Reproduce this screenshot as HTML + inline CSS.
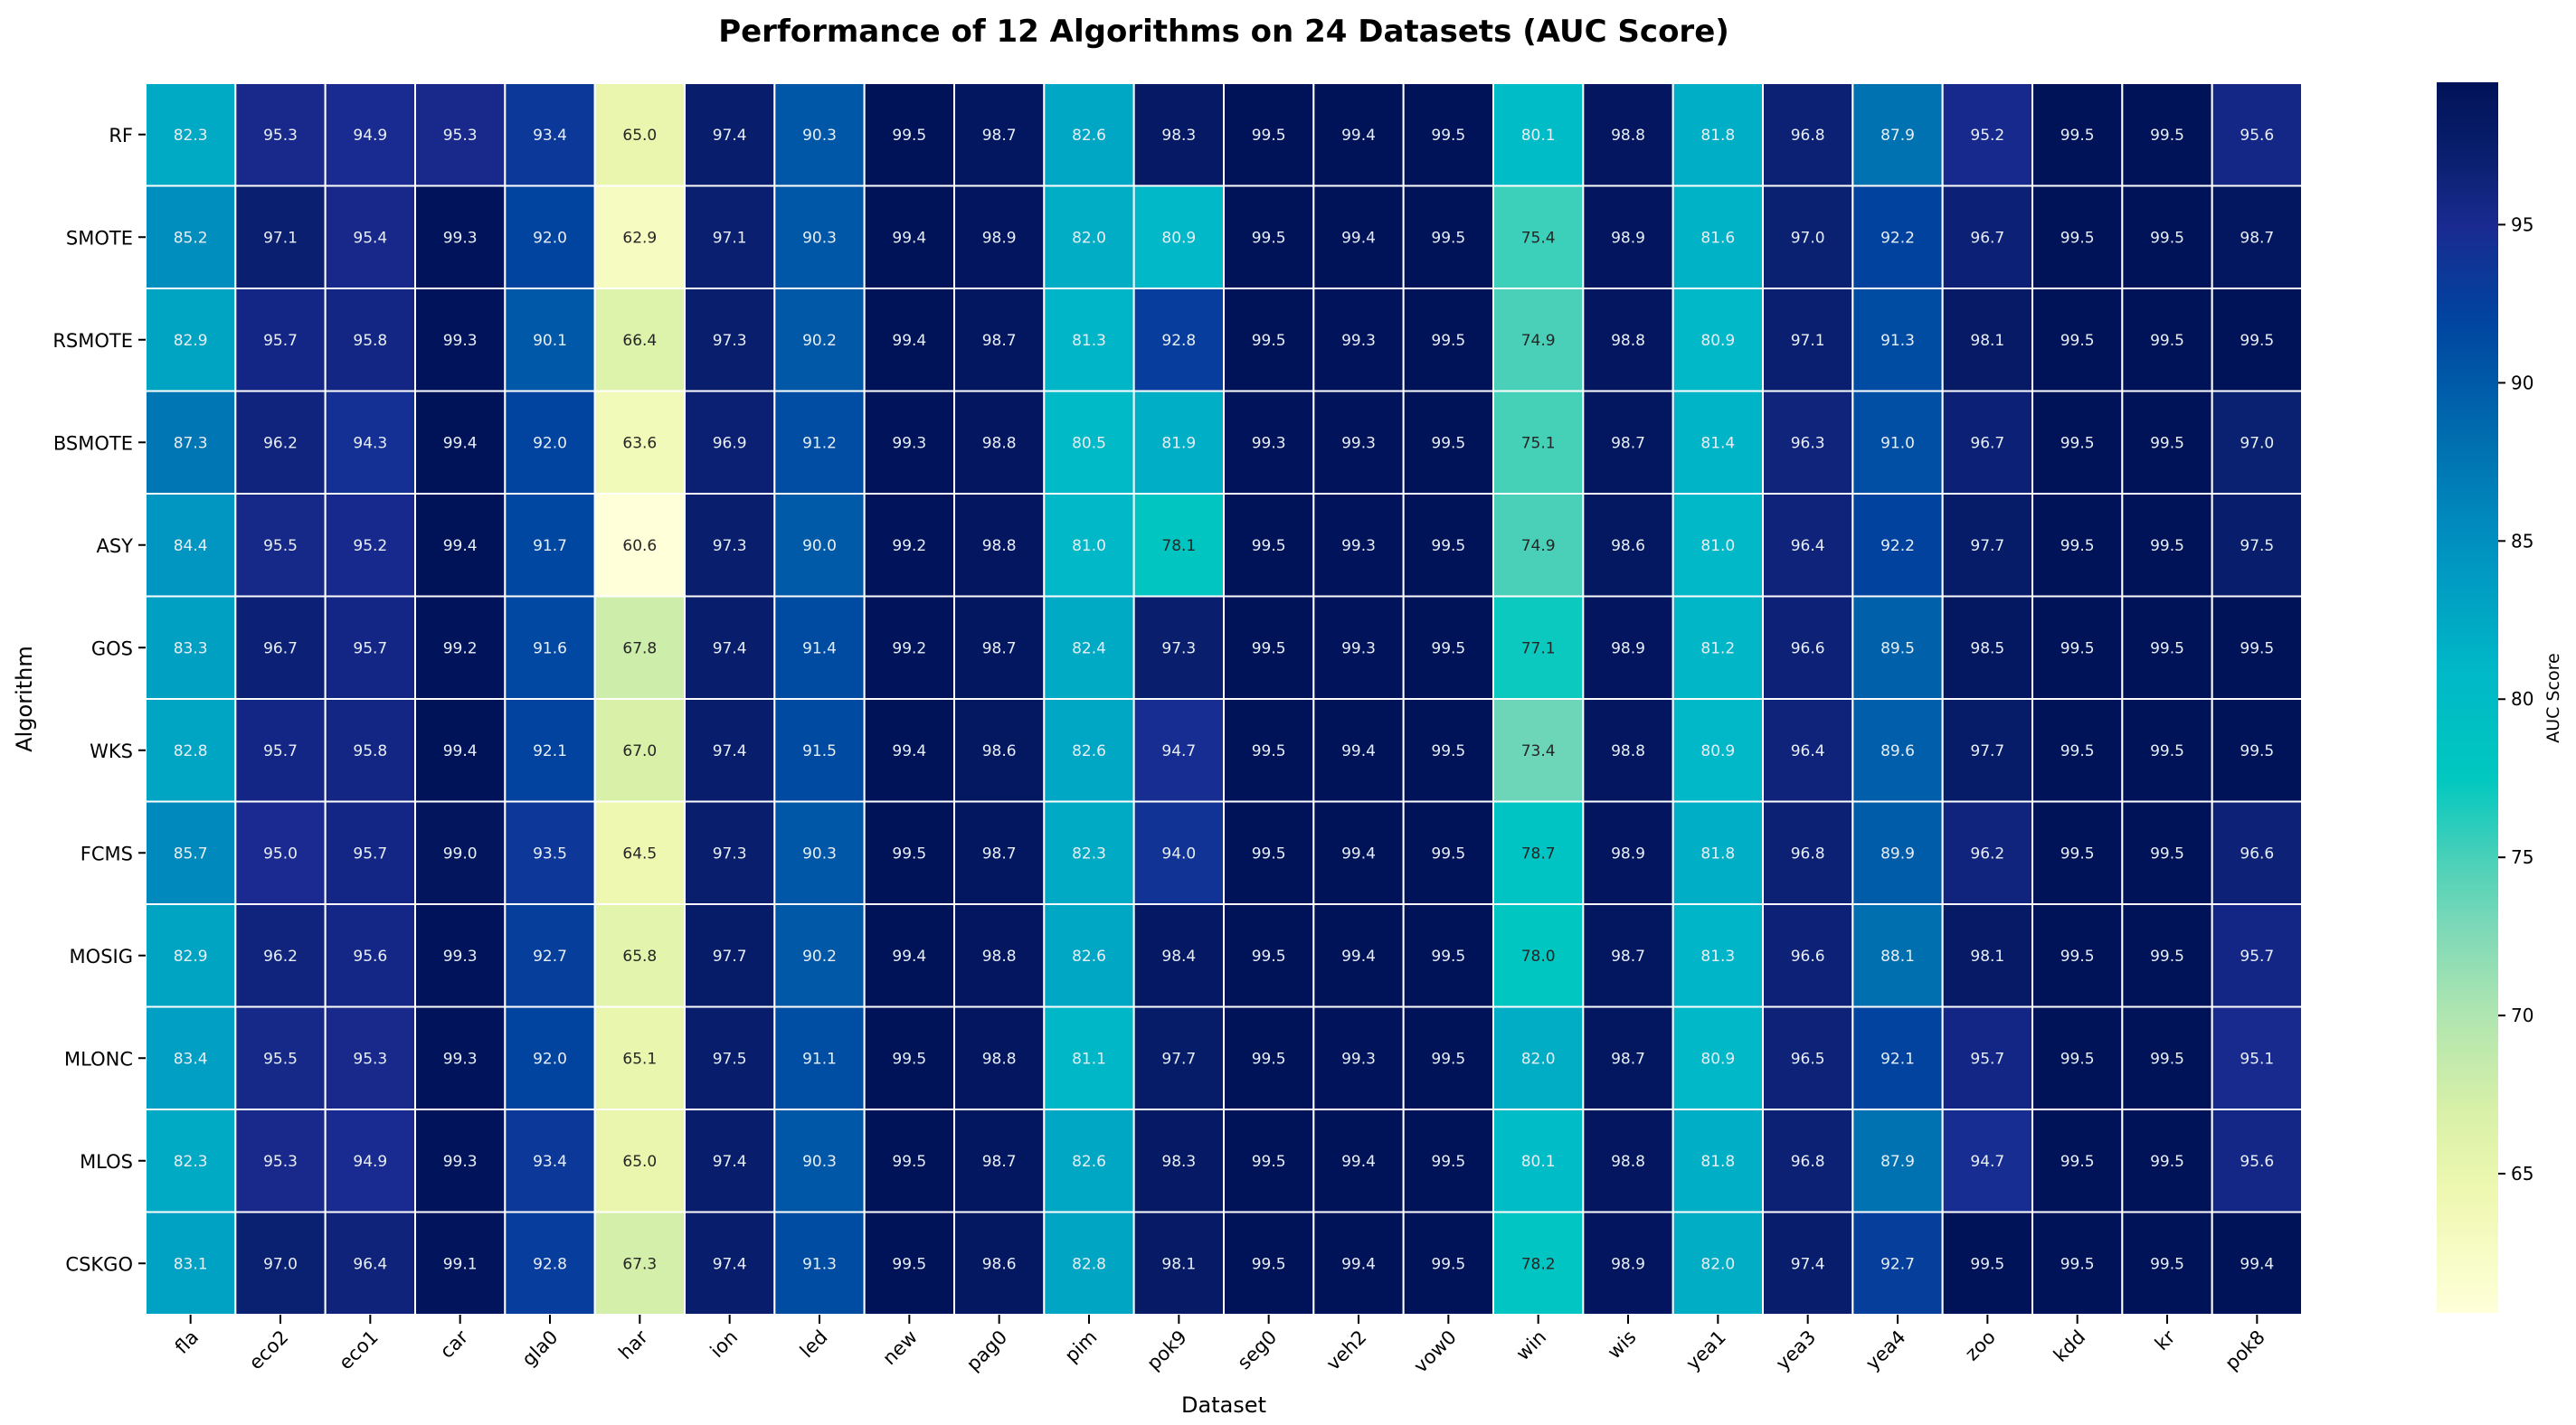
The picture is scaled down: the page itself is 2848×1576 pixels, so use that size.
<!DOCTYPE html>
<html><head><meta charset="utf-8">
<style>
html,body{margin:0;padding:0;background:#fff;}
svg{display:block;font-family:"DejaVu Sans","Liberation Sans",sans-serif;}
</style></head>
<body>
<svg id="chart" width="2848" height="1576" viewBox="0 0 2848 1576" xmlns="http://www.w3.org/2000/svg">
<text x="1353" y="46" text-anchor="middle" font-size="34" font-weight="bold" fill="#000">Performance of 12 Algorithms on 24 Datasets (AUC Score)</text>
<g id="cells"></g>
<g id="ylabels"></g>
<g id="xlabels"></g>
<text x="1353" y="1562" text-anchor="middle" font-size="24" fill="#000">Dataset</text>
<text transform="translate(35,773) rotate(-90)" text-anchor="middle" font-size="24" fill="#000">Algorithm</text>
<defs><linearGradient id="cbg" x1="0" y1="1" x2="0" y2="0"></linearGradient></defs>
<rect id="cbar" x="2694" y="91" width="68" height="1361" fill="url(#cbg)"/>
<g id="cticks"></g>
<text transform="translate(2829,772) rotate(-90)" text-anchor="middle" font-size="19" fill="#000">AUC Score</text>
</svg>
<script>
const algorithms=["RF","SMOTE","RSMOTE","BSMOTE","ASY","GOS","WKS","FCMS","MOSIG","MLONC","MLOS","CSKGO"];
const datasets=["fla","eco2","eco1","car","gla0","har","ion","led","new","pag0","pim","pok9","seg0","veh2","vow0","win","wis","yea1","yea3","yea4","zoo","kdd","kr","pok8"];
const rowRF=[82.3,95.3,94.9,95.3,93.4,65.0,97.4,90.3,99.5,98.7,82.6,98.3,99.5,99.4,99.5,80.1,98.8,81.8,96.8,87.9,95.2,99.5,99.5,95.6];
const rowSMOTE=[85.2,97.1,95.4,99.3,92.0,62.9,97.1,90.3,99.4,98.9,82.0,80.9,99.5,99.4,99.5,75.4,98.9,81.6,97.0,92.2,96.7,99.5,99.5,98.7];
const rowRSMOTE=[82.9,95.7,95.8,99.3,90.1,66.4,97.3,90.2,99.4,98.7,81.3,92.8,99.5,99.3,99.5,74.9,98.8,80.9,97.1,91.3,98.1,99.5,99.5,99.5];
const rowBSMOTE=[87.3,96.2,94.3,99.4,92.0,63.6,96.9,91.2,99.3,98.8,80.5,81.9,99.3,99.3,99.5,75.1,98.7,81.4,96.3,91.0,96.7,99.5,99.5,97.0];
const rowASY=[84.4,95.5,95.2,99.4,91.7,60.6,97.3,90.0,99.2,98.8,81.0,78.1,99.5,99.3,99.5,74.9,98.6,81.0,96.4,92.2,97.7,99.5,99.5,97.5];
const rowGOS=[83.3,96.7,95.7,99.2,91.6,67.8,97.4,91.4,99.2,98.7,82.4,97.3,99.5,99.3,99.5,77.1,98.9,81.2,96.6,89.5,98.5,99.5,99.5,99.5];
const rowWKS=[82.8,95.7,95.8,99.4,92.1,67.0,97.4,91.5,99.4,98.6,82.6,94.7,99.5,99.4,99.5,73.4,98.8,80.9,96.4,89.6,97.7,99.5,99.5,99.5];
const rowFCMS=[85.7,95.0,95.7,99.0,93.5,64.5,97.3,90.3,99.5,98.7,82.3,94.0,99.5,99.4,99.5,78.7,98.9,81.8,96.8,89.9,96.2,99.5,99.5,96.6];
const rowMOSIG=[82.9,96.2,95.6,99.3,92.7,65.8,97.7,90.2,99.4,98.8,82.6,98.4,99.5,99.4,99.5,78.0,98.7,81.3,96.6,88.1,98.1,99.5,99.5,95.7];
const rowMLONC=[83.4,95.5,95.3,99.3,92.0,65.1,97.5,91.1,99.5,98.8,81.1,97.7,99.5,99.3,99.5,82.0,98.7,80.9,96.5,92.1,95.7,99.5,99.5,95.1];
const rowMLOS=[82.3,95.3,94.9,99.3,93.4,65.0,97.4,90.3,99.5,98.7,82.6,98.3,99.5,99.4,99.5,80.1,98.8,81.8,96.8,87.9,94.7,99.5,99.5,95.6];
const rowCSKGO=[83.1,97.0,96.4,99.1,92.8,67.3,97.4,91.3,99.5,98.6,82.8,98.1,99.5,99.4,99.5,78.2,98.9,82.0,97.4,92.7,99.5,99.5,99.5,99.4];
const values=[rowRF,rowSMOTE,rowRSMOTE,rowBSMOTE,rowASY,rowGOS,rowWKS,rowFCMS,rowMOSIG,rowMLONC,rowMLOS,rowCSKGO];
const colorTicks=[65,70,75,80,85,90,95];
const vmin=60.6, vmax=99.5;

const NS="http://www.w3.org/2000/svg";
const L=161,R=2545,T=92,B=1454;
const cw=(R-L)/datasets.length, ch=(B-T)/algorithms.length;
const xPos=i=>L+i*cw, yPos=j=>T+j*ch;
const cbTop=91,cbBot=1452;
const cbY=v=>cbBot-(v-vmin)/(vmax-vmin)*(cbBot-cbTop);
const stopV=[60.6,64.5,67,70,73,75,77.5,81,82.5,85,88,92,95,97,99.5];
const stopC=["#ffffd9","#eef8b0","#d8f0a8","#b0e6b0","#78d8b8","#48d0b8","#00c8c0","#00b8c8","#00a8c4","#0090c0","#0070b0","#0044a0","#1a2a90","#0a2070","#001258"];
function hex(h){return [1,3,5].map(k=>parseInt(h.substr(k,2),16));}
function cmap(v){v=Math.max(vmin,Math.min(vmax,v));let i=0;while(i<stopV.length-2&&v>stopV[i+1])i++;const f=(v-stopV[i])/(stopV[i+1]-stopV[i]);const a=hex(stopC[i]),b=hex(stopC[i+1]);return a.map((c,k)=>Math.round(c+(b[k]-c)*f));}
function lum(c){const l=c.map(x=>{x/=255;return x<=0.03928?x/12.92:Math.pow((x+0.055)/1.055,2.4);});return 0.2126*l[0]+0.7152*l[1]+0.0722*l[2];}
function mk(tag,attrs,parent){const e=document.createElementNS(NS,tag);for(const k in attrs)e.setAttribute(k,attrs[k]);parent.appendChild(e);return e;}

const cells=document.getElementById('cells');
values.forEach((row,j)=>{row.forEach((v,i)=>{
  const c=cmap(v);
  const r=mk('rect',{x:xPos(i),y:yPos(j),width:cw,height:ch,fill:`rgb(${c})`,stroke:'#fff','stroke-width':2},cells);
  
  
  const t=mk('text',{x:xPos(i)+cw/2,y:yPos(j)+ch/2+6,'text-anchor':'middle','font-size':17,fill:lum(c)>0.408?'#262626':'#e8eef5'},cells);
  t.textContent=v.toFixed(1);
  
  
});});

const yl=document.getElementById('ylabels');
algorithms.forEach((a,j)=>{
  const y=yPos(j)+ch/2;
  const tk=mk('line',{x1:L-8,x2:L,y1:y,y2:y,stroke:'#000','stroke-width':2},yl);
  
  
  const t=mk('text',{x:L-14,y:y+8,'text-anchor':'end','font-size':21,fill:'#000'},yl);
  t.textContent=a;
  
  
});
const xl=document.getElementById('xlabels');
datasets.forEach((d,i)=>{
  const x=xPos(i)+cw/2;
  const tk=mk('line',{x1:x,x2:x,y1:B,y2:B+10,stroke:'#000','stroke-width':2},xl);
  
  
  const t=mk('text',{transform:`translate(${x+10},${B+26}) rotate(-45)`,'text-anchor':'end','font-size':21,fill:'#000'},xl);
  t.textContent=d;
  
  
});

const g=document.getElementById('cbg');
for(let k=0;k<=60;k++){const v=vmin+(vmax-vmin)*k/60;const c=cmap(v);mk('stop',{offset:(k/60),'stop-color':`rgb(${c})`},g);}
const ct=document.getElementById('cticks');
colorTicks.forEach(v=>{
  const y=cbY(v);
  const tk=mk('line',{x1:2762,x2:2770,y1:y,y2:y,stroke:'#000','stroke-width':2},ct);
  
  
  const t=mk('text',{x:2776,y:y+7,'font-size':20,fill:'#000'},ct);
  t.textContent=v;
  
  
});
</script>
</body></html>
